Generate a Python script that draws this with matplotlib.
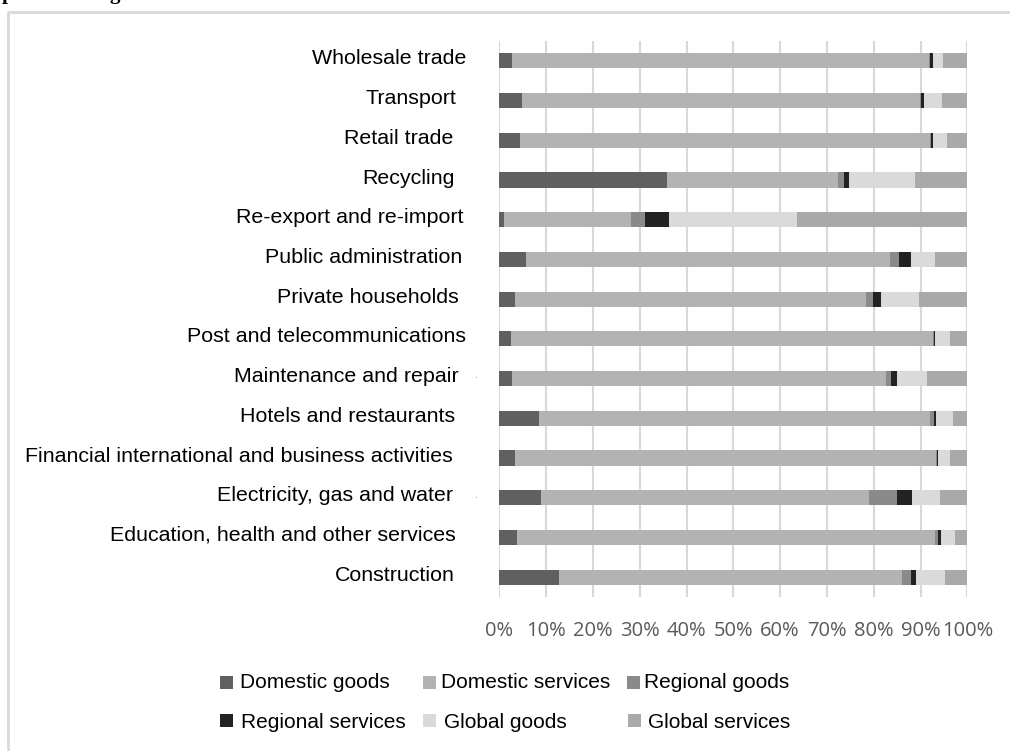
import matplotlib
matplotlib.use("Agg")
import matplotlib.pyplot as plt
from matplotlib.patches import Rectangle
from matplotlib.lines import Line2D
import numpy as np

# ---- data (top to bottom as displayed) ----
categories = [
    "Wholesale trade", "Transport", "Retail trade", "Recycling",
    "Re-export and re-import", "Public administration", "Private households",
    "Post and telecommunications", "Maintenance and repair",
    "Hotels and restaurants", "Financial international and business activities",
    "Electricity, gas and water", "Education, health and other services",
    "Construction",
]
domestic_goods    = [2.7, 4.8, 4.4, 35.8, 1.0, 5.7, 3.4, 2.5, 2.8, 8.4, 3.3, 8.9, 3.8, 12.7]
domestic_services = [89.2, 85.1, 87.6, 36.6, 27.1, 77.8, 74.9, 90.1, 79.8, 83.6, 90.1, 70.1, 89.4, 73.3]
regional_goods    = [0.2, 0.2, 0.3, 1.2, 3.1, 1.9, 1.5, 0.2, 1.0, 0.9, 0.1, 6.0, 0.6, 2.0]
regional_services = [0.6, 0.6, 0.4, 1.1, 5.1, 2.6, 1.8, 0.4, 1.4, 0.5, 0.2, 3.2, 0.6, 1.0]
global_goods      = [2.2, 3.9, 2.9, 14.1, 27.3, 5.1, 8.1, 3.0, 6.3, 3.6, 2.5, 6.0, 2.9, 6.2]
global_services   = [5.1, 5.4, 4.4, 11.2, 36.4, 6.9, 10.3, 3.8, 8.7, 3.0, 3.8, 5.8, 2.7, 4.8]
series_names = ["Domestic goods", "Domestic services", "Regional goods",
                "Regional services", "Global goods", "Global services"]
tick_values = list(range(0, 101, 10))
tick_labels = [f"{v}%" for v in tick_values]

# ---- style ----
colors = ["#606060", "#b3b3b3", "#8a8a8a", "#222222", "#dadada", "#a9a9a9"]
W, H = 1010, 751
# right edge (pixels) of each category label, as in the reference
label_right_px = [466, 456, 453, 455, 463, 462, 459, 466, 459, 455, 453, 453, 456, 455]

fig = plt.figure(figsize=(W / 100, H / 100), dpi=100)
ax_l, ax_r, ax_t, ax_b = 499.3, 967.3, 41, 597
ax = fig.add_axes([ax_l / W, 1 - ax_b / H, (ax_r - ax_l) / W, (ax_b - ax_t) / H])

series = [domestic_goods, domestic_services, regional_goods,
          regional_services, global_goods, global_services]
data = np.array(series, dtype=float)
data = data / data.sum(axis=0) * 100.0
y = np.arange(len(categories))
left = np.zeros(len(categories))
for vals, col, name in zip(data, colors, series_names):
    ax.barh(y, vals, left=left, height=0.38, color=col, label=name, zorder=3)
    left += vals

ax.set_xlim(0, 100)
ax.set_ylim(len(categories) - 0.5, -0.5)
ax.set_xticks(tick_values)
ax.set_xticklabels(tick_labels, fontfamily="Open Sans", fontsize=14.5, color="#595959")
ax.tick_params(axis="x", length=0, pad=17)
ax.set_yticks([])
ax.grid(axis="x", color="#d9d9d9", linewidth=1.5, zorder=0)
for s in ax.spines.values():
    s.set_visible(False)

# category labels
for yi, (name, rpx) in enumerate(zip(categories, label_right_px)):
    xd = (rpx - ax_l) / (ax_r - ax_l) * 100
    ax.text(xd, yi - 0.05, name, ha="right", va="center", fontsize=15.4,
            fontfamily="Liberation Sans", color="black", clip_on=False)

# tiny stray dots seen next to two labels in the reference
for yi in (8, 11):
    xd = (476 - ax_l) / (ax_r - ax_l) * 100
    ax.text(xd, yi, "·", ha="center", va="center", fontsize=7,
            color="#888888", clip_on=False)

# manual legend (pixel positions of square left edge / centre, text start)
def px(x, yy):
    return x / W, 1 - yy / H

square_pos = [(220, 682.5), (423, 682.5), (627, 682.5),
              (220, 720.5), (423, 720.5), (628, 720.5)]
text_x = [240, 441, 644, 241, 444, 648]
text_base = [688.5, 688.5, 688.5, 727.5, 727.5, 727.5]
sq = 13
for (sx, sy), tx, tb, col, name in zip(square_pos, text_x, text_base, colors, series_names):
    fx, fy = px(sx, sy + sq / 2)
    fig.add_artist(Rectangle((fx, fy), sq / W, sq / H, transform=fig.transFigure,
                             color=col, lw=0))
    fxx, fyy = px(tx, tb)
    fig.text(fxx, fyy, name, ha="left", va="baseline", fontsize=15,
             fontfamily="Liberation Sans", color="black")

# outer frame (only left and top visible)
fig.add_artist(Line2D([8 / W, 8 / W, 1.0], [0.0, 1 - 12 / H, 1 - 12 / H],
                      transform=fig.transFigure, color="#d9d9d9", lw=2))

# cropped title fragments at the very top
fig.text(2 / W, 1 + 1 / H, "p", ha="left", va="baseline", fontsize=15,
         fontfamily="Liberation Serif", fontweight="bold")
fig.text(110 / W, 1 + 1 / H, "g", ha="left", va="baseline", fontsize=15,
         fontfamily="Liberation Serif", fontweight="bold")

fig.savefig("out.png", dpi=100)
